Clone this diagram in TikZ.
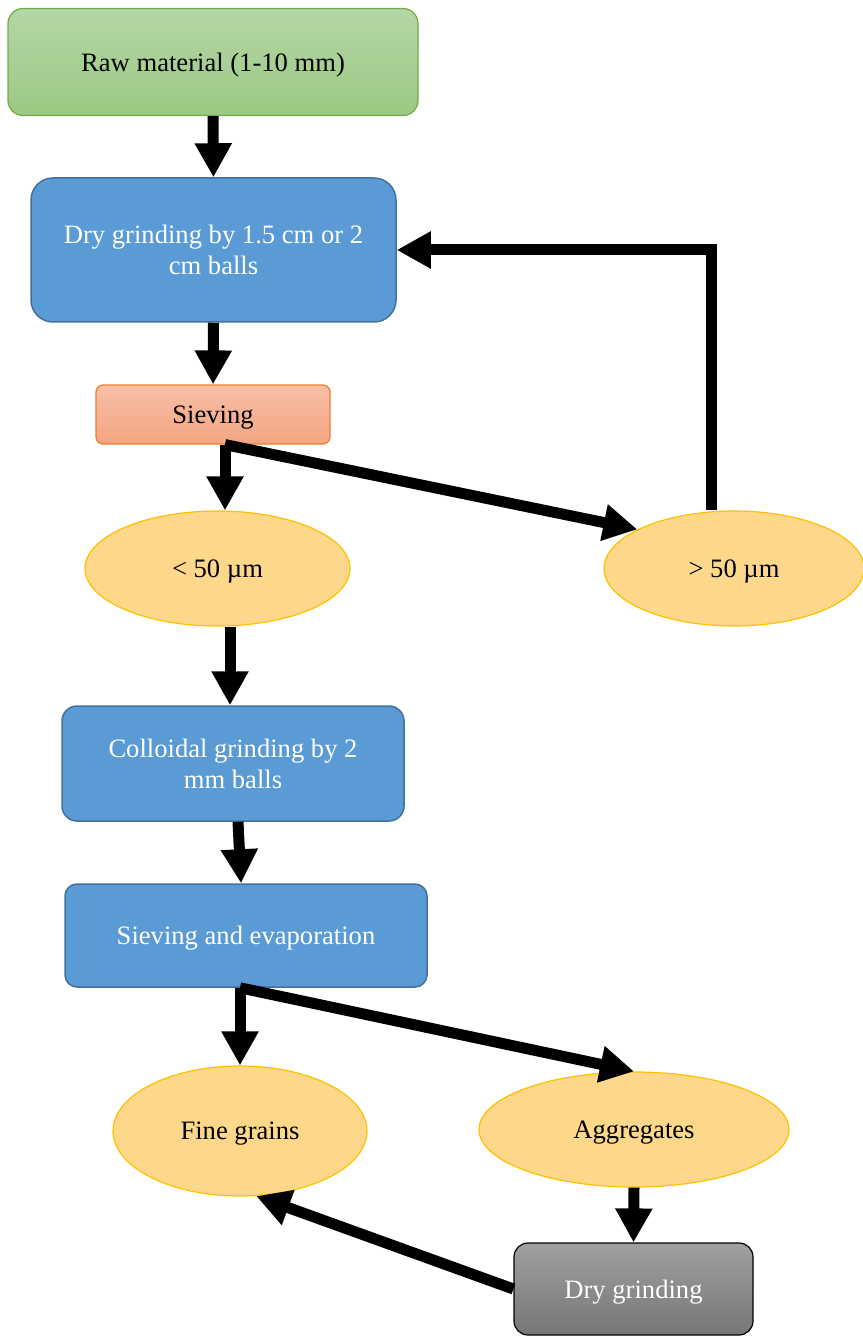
\documentclass[tikz,border=0pt]{standalone}
\usepackage{fontspec}
\setmainfont{Liberation Serif}
\usetikzlibrary{arrows.meta,shapes.geometric}
\definecolor{rawtop}{HTML}{B5D6A5}
\definecolor{rawbot}{HTML}{9BC983}
\definecolor{rawline}{HTML}{70AD47}
\definecolor{grindfill}{HTML}{5B9BD5}
\definecolor{grindline}{HTML}{41719C}
\definecolor{sievetop}{HTML}{F7BFA6}
\definecolor{sievebot}{HTML}{F4A582}
\definecolor{sieveline}{HTML}{ED7D31}
\definecolor{grainfill}{HTML}{FED88A}
\definecolor{grainline}{HTML}{FFC000}
\definecolor{drytop}{HTML}{A0A0A0}
\definecolor{drybot}{HTML}{767676}
\begin{document}
\begin{tikzpicture}[x=0.5pt,y=-0.5pt,
  font=\fontsize{13.3pt}{15.5pt}\selectfont,
  every node/.style={text depth=0pt},
  stagebox/.style={draw=grindline, fill=grindfill, text=white, line width=0.75pt, align=center, inner sep=0pt},
  grainoval/.style={ellipse, draw=grainline, fill=grainfill, line width=0.6pt, inner sep=0pt},
  flow/.style={line width=5.5pt, -{Triangle[width=17.5pt,length=17pt]}}]
            \useasboundingbox (0,0) rectangle (862,1336);
            
            % Drawing box Raw material
            \node [draw=rawline, top color=rawtop, bottom color=rawbot, line width=0.6pt, rounded corners=7.5pt,
                   minimum width=205pt, minimum height=53.5pt] (raw) at (213,62) {Raw material (1-10 mm)};%
            
            % Drawing box Dry grinding by balls
            \node [stagebox, rounded corners=11pt, minimum width=182.5pt, minimum height=72pt] (ballmill) at (213.5,250)
                  {Dry grinding by 1.5 cm or 2\\cm balls};%
            
            % Drawing box Sieving
            \node [draw=sieveline, top color=sievetop, bottom color=sievebot, line width=0.6pt, rounded corners=3.5pt,
                   minimum width=117pt, minimum height=29.5pt] (sieve) at (213,414.5) {Sieving};%
            
            % Drawing ovals < 50 and > 50
            \node [grainoval, minimum width=132.5pt, minimum height=57.5pt] (small) at (217.5,568.5) {< 50 µm};%
            \node [grainoval, minimum width=130pt, minimum height=57.5pt] (large) at (734,568.5) {> 50 µm};%
            
            % Drawing box Colloidal grinding
            \node [stagebox, rounded corners=7.5pt, minimum width=171pt, minimum height=57.5pt] (colloid) at (233,763.5)
                  {Colloidal grinding by 2\\mm balls};%
            
            % Drawing box Sieving and evaporation
            \node [stagebox, rounded corners=6pt, minimum width=181pt, minimum height=51.5pt] (evap) at (246,935.5)
                  {Sieving and evaporation};%
            
            % Drawing ovals Fine grains and Aggregates
            \node [grainoval, minimum width=127pt, minimum height=65pt] (fine) at (240,1131) {Fine grains};%
            \node [grainoval, minimum width=155pt, minimum height=57.5pt] (aggr) at (634,1129.5) {Aggregates};%
            
            % Drawing box Dry grinding
            \node [draw=black, top color=drytop, bottom color=drybot, text=white, line width=0.6pt, rounded corners=7pt,
                   minimum width=119.5pt, minimum height=46pt] (regrind) at (633.5,1289) {Dry grinding};%
            
            % Drawing arrows of the first stage
            \draw [flow] (raw.south) -- (ballmill.north);%
            \draw [flow] (ballmill.south) -- (sieve.north);%
            \draw [flow] ([xshift=6pt]sieve.south) -- ([xshift=6pt]sieve.south |- small.north);%
            \draw [flow] ([xshift=6pt]sieve.south) -- (large.158);%
            \draw [flow] ([xshift=-11.5pt]large.north) |- (ballmill.east);%
            
            % Drawing arrows of the second stage
            \draw [flow] ([xshift=-1.5pt]colloid.north |- small.south) -- ([xshift=-1.5pt]colloid.north);%
            \draw [flow] ([xshift=2.5pt]colloid.south) -- ([xshift=-2.5pt]evap.north);%
            \draw [flow] (fine.north |- evap.south) -- (fine.north);%
            \draw [flow] (fine.north |- evap.south) -- (aggr.north);%
            \draw [flow] (aggr.south) -- (regrind.north);%
            \draw [flow] (regrind.west) -- (fine.-76);%
        \end{tikzpicture}
\end{document}
